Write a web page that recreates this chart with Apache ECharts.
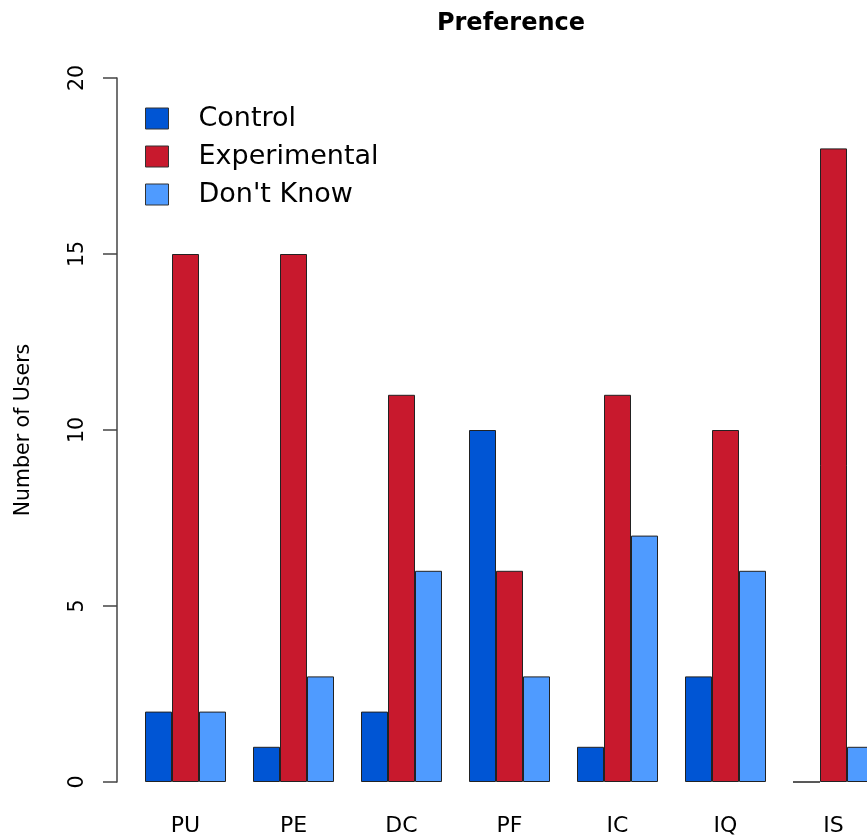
<!DOCTYPE html>
<html><head><meta charset="utf-8">
<script src="https://cdn.jsdelivr.net/npm/echarts@6/dist/echarts.min.js"></script>
<style>html,body{margin:0;padding:0;background:#fff}#c{width:867px;height:840px}</style>
</head><body><div id="c"></div>
<script>
var categories = ['PU','PE','DC','PF','IC','IQ','IS'];
var control = [2,1,2,10,1,3,0];
var experimental = [15,15,11,6,11,10,18];
var dontKnow = [2,3,6,3,7,6,1];
var yTicks = [0,5,10,15,20];

var chart = echarts.init(document.getElementById('c'), null, {renderer:'canvas'});
var font = 'DejaVu Sans, sans-serif';
function s(name, data, color){
  return {name:name, type:'bar', data:data, barGap:'0%', barCategoryGap:'25%',
    itemStyle:{color:color, borderColor:'#222', borderWidth:1}, animation:false};
}
chart.setOption({
  animation:false,
  title:{text:'Preference', left:506, top:7, textAlign:'center',
    textStyle:{fontFamily:font, fontWeight:'bold', fontSize:24, color:'#000'}},
  legend:{orient:'vertical', left:145, top:105, padding:0, itemWidth:23, itemHeight:21, itemGap:11,
    icon:'rect',
    textStyle:{fontFamily:font, fontSize:27, color:'#000', padding:[0,0,0,25]},
    itemStyle:{borderColor:'#333', borderWidth:1}},
  grid:{left:131.5, right:-20.5, top:78, bottom:58, outerBoundsMode:'none', containLabel:false},
  xAxis:{type:'category', data:categories, axisLine:{show:false}, axisTick:{show:false},
    axisLabel:{fontFamily:font, fontSize:22, color:'#000', margin:33}},
  yAxis:{type:'value', min:yTicks[0], max:yTicks[yTicks.length-1], interval:5, offset:14.5,
    name:'Number of Users', nameLocation:'middle', nameGap:83, nameRotate:90,
    nameTextStyle:{fontFamily:font, fontSize:20.5, color:'#000'},
    axisLine:{show:true, lineStyle:{color:'#444', width:1.5}},
    axisTick:{show:true, inside:false, length:14, lineStyle:{color:'#444', width:1.5}},
    axisLabel:{fontFamily:font, fontSize:20.5, color:'#000', rotate:90, margin:29},
    splitLine:{show:false}},
  series:[s('Control', control, '#0055D4'), s('Experimental', experimental, '#C8192D'), s("Don't Know", dontKnow, '#4F9BFF')]
});
</script></body></html>
